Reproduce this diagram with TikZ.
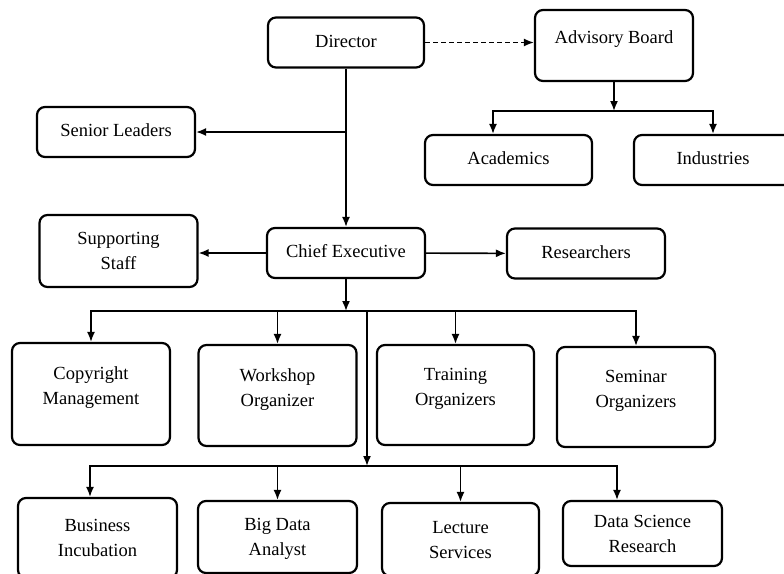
\documentclass[tikz,border=0pt]{standalone}
\usepackage{fontspec}
\setmainfont{Liberation Serif}
\usetikzlibrary{arrows.meta}
\tikzset{>={Latex[length=10pt,width=8pt]}}

\begin{document}
\begin{tikzpicture}[x=1pt,y=-1pt,
    box/.style={draw,line width=2.2pt,rounded corners=8pt,inner sep=2pt,
      minimum width=158pt,minimum height=50pt,align=center,
      font=\fontsize{18.5}{25}\selectfont,text height=13pt,text depth=4pt},
    two/.style={text height=41pt,text depth=4pt},
    high/.style={text height=25pt,text depth=4pt},
    link/.style={line width=1.6pt}]
  \useasboundingbox (0,0) rectangle (784,573);
  % top part
  \node[box,minimum width=156pt] (dir) at (346,42.5){Director};
  \node[box,minimum height=71pt,text depth=18pt] (adv) at (614,45.5){Advisory Board};
  \node[box] (senior) at (116,132){Senior Leaders};
  \node[box,minimum width=167pt] (acad) at (508.5,160){Academics};
  \node[box] (ind) at (713,160){Industries};
  \node[box] (ceo) at (346,253){Chief Executive};
  \node[box,two,minimum height=72pt] (staff) at (118.5,251){Supporting\\Staff};
  \node[box] (res) at (586,253.5){Researchers};
  % second row
  \node[box,high,minimum height=102pt] (copy) at (91,394){Copyright\\Management};
  \node[box,high,minimum height=101pt] (work) at (277.5,395.5){Workshop\\Organizer};
  \node[box,high,minimum height=100pt,minimum width=157pt] (train) at (455.5,395){Training\\Organizers};
  \node[box,high,minimum height=100pt] (sem) at (636,397){Seminar\\Organizers};
  % third row
  \node[box,two,minimum height=80pt,minimum width=159pt] (bus) at (97.5,538){Business\\Incubation};
  \node[box,two,minimum height=72pt,minimum width=159pt] (big) at (277.5,537){Big Data\\Analyst};
  \node[box,two,minimum height=73pt,minimum width=157pt] (lect) at (460.5,539.5){Lecture\\Services};
  \node[box,two,minimum height=65pt,minimum width=159pt] (dsr) at (642.5,533.5){Data Science\\Research};
  % branch points
  \coordinate (abus) at (614,111);
  \coordinate (cbus) at (346,311);
  \coordinate (split) at (367,311);
  \coordinate (lbus) at (367,466);
  % connectors
  \draw[link,->,dash pattern=on 5pt off 3pt] (dir.east) -- (dir.east -| adv.west);
  \draw[link,->] (dir) -- (ceo);
  \draw[link,->] (dir |- senior) -- (senior);
  \draw[link,->] (adv) -- (abus);
  \draw[link,->] (abus) -| ([xshift=-15.5pt]acad.north);
  \draw[link,->] (abus) -| (ind.north);
  \draw[link,->] (ceo.west) -- (ceo.west -| staff.east);
  \draw[link,->] (ceo) -- (res);
  \draw[link,->] (ceo) -- (cbus);
  \draw[link,->] (cbus) -| (copy.north);
  \draw[link,->] (cbus) -| (work.north);
  \draw[link,->] (cbus) -| (train.north);
  \draw[link,->] (cbus) -| (sem.north);
  \draw[link,->] (split) -- (lbus);
  \draw[link,->] (lbus) -| ([xshift=-7.5pt]bus.north);
  \draw[link,->] (lbus) -| (big.north);
  \draw[link,->] (lbus) -| (lect.north);
  \draw[link,->] (lbus) -| ([xshift=-25.5pt]dsr.north);
\end{tikzpicture}
\end{document}
